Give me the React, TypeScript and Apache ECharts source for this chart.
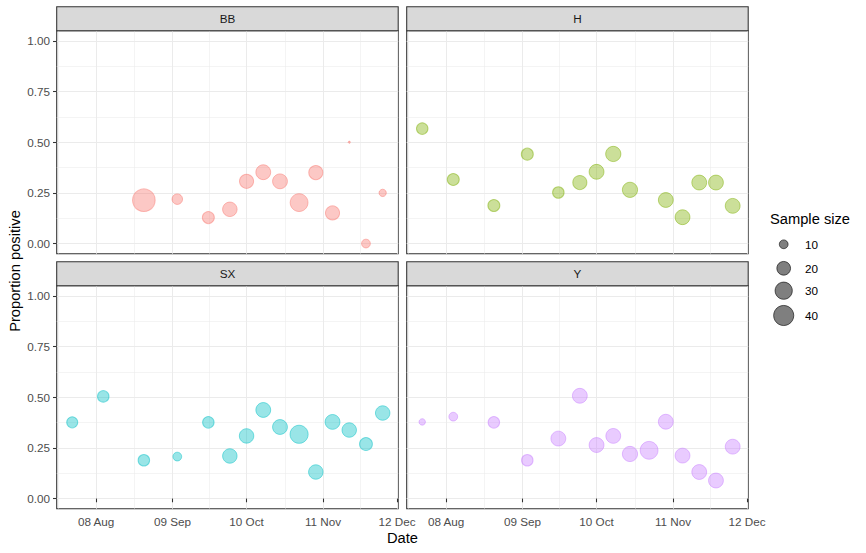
import React, { useEffect, useRef } from "react";
import * as echarts from "echarts";

// ---------- data ----------
const facetNames = ["BB", "H", "SX", "Y"];
const facetColors = ["#F8766D", "#7CAE00", "#00BFC4", "#C77CFF"];

const bbDates = ["2020-08-28", "2020-09-11", "2020-09-24", "2020-10-03", "2020-10-10", "2020-10-17", "2020-10-24", "2020-11-01", "2020-11-08", "2020-11-15", "2020-11-22", "2020-11-29", "2020-12-06"];
const bbProp = [0.214, 0.219, 0.128, 0.169, 0.307, 0.352, 0.307, 0.202, 0.35, 0.151, 0.5, 0.0, 0.25];
const bbN = [50, 13, 16, 22, 21, 23, 23, 32, 21, 21, 4, 10, 8];

const hDates = ["2020-07-29", "2020-08-11", "2020-08-28", "2020-09-11", "2020-09-24", "2020-10-03", "2020-10-10", "2020-10-17", "2020-10-24", "2020-11-08", "2020-11-15", "2020-11-22", "2020-11-29", "2020-12-06"];
const hProp = [0.567, 0.316, 0.1875, 0.441, 0.252, 0.301, 0.354, 0.442, 0.265, 0.215, 0.13, 0.301, 0.301, 0.186];
const hN = [15, 16, 16, 16, 15, 21, 23, 24, 24, 23, 23, 23, 23, 23];

const sxDates = ["2020-07-29", "2020-08-11", "2020-08-28", "2020-09-11", "2020-09-24", "2020-10-03", "2020-10-10", "2020-10-17", "2020-10-24", "2020-11-01", "2020-11-08", "2020-11-15", "2020-11-22", "2020-11-29", "2020-12-06"];
const sxProp = [0.376, 0.504, 0.189, 0.207, 0.376, 0.21, 0.309, 0.437, 0.353, 0.317, 0.131, 0.378, 0.338, 0.269, 0.422];
const sxN = [14, 15, 15, 10, 15, 22, 22, 23, 23, 33, 22, 23, 22, 18, 22];

const yDates = ["2020-07-29", "2020-08-11", "2020-08-28", "2020-09-11", "2020-09-24", "2020-10-03", "2020-10-10", "2020-10-17", "2020-10-24", "2020-11-01", "2020-11-08", "2020-11-15", "2020-11-22", "2020-11-29", "2020-12-06"];
const yProp = [0.378, 0.404, 0.376, 0.189, 0.296, 0.507, 0.264, 0.309, 0.22, 0.238, 0.379, 0.212, 0.131, 0.089, 0.256];
const yN = [7, 10, 15, 15, 23, 23, 23, 23, 24, 32, 23, 23, 23, 23, 23];

const xTickDates = ["2020-08-08", "2020-09-09", "2020-10-10", "2020-11-11", "2020-12-12"];
const yTicks = [0, 0.25, 0.5, 0.75, 1];
const yLimits = [0, 1];
const legendSizes = [10, 20, 30, 40];

// ---------- helpers ----------
const MONTHS = ["Jan", "Feb", "Mar", "Apr", "May", "Jun", "Jul", "Aug", "Sep", "Oct", "Nov", "Dec"];
const parseDate = (s: string) => {
  const [y, m, d] = s.split("-").map(Number);
  return Date.UTC(y, m - 1, d);
};
const fmtDate = (v: number) => {
  const d = new Date(v);
  return String(d.getUTCDate()).padStart(2, "0") + " " + MONTHS[d.getUTCMonth()];
};
const sizeFn = (n: number) => Math.max(1.5 + 3.2 * Math.sqrt(Math.max(n - 4, 0)) - 0.6, 2);
const rgba = (hex: string, a: number) => {
  const r = parseInt(hex.slice(1, 3), 16);
  const g = parseInt(hex.slice(3, 5), 16);
  const b = parseInt(hex.slice(5, 7), 16);
  return `rgba(${r},${g},${b},${a})`;
};
const minorBreaks = (major: number[], lo: number, hi: number) => {
  const out: number[] = [];
  const step0 = major[1] - major[0];
  const stepN = major[major.length - 1] - major[major.length - 2];
  out.push(major[0] - step0 / 2);
  for (let i = 0; i < major.length - 1; i++) out.push((major[i] + major[i + 1]) / 2);
  out.push(major[major.length - 1] + stepN / 2);
  return out.filter((v) => v >= lo && v <= hi);
};

const FONT = "'Liberation Sans', Arial, Helvetica, sans-serif";

export default function App() {
  const ref = useRef<HTMLDivElement>(null);

  useEffect(() => {
    if (!ref.current) return;
    const chart = echarts.init(ref.current, undefined, { renderer: "svg" });

    const panels = [
      { dates: bbDates, prop: bbProp, n: bbN },
      { dates: hDates, prop: hProp, n: hN },
      { dates: sxDates, prop: sxProp, n: sxN },
      { dates: yDates, prop: yProp, n: yN },
    ];

    const allTs = panels.flatMap((p) => p.dates.map(parseDate));
    const tMin = Math.min(...allTs);
    const tMax = Math.max(...allTs);
    const tSpan = tMax - tMin;
    const xMin = tMin - 0.05 * tSpan;
    const xMax = tMax + 0.05 * tSpan;
    const ySpan = yLimits[1] - yLimits[0];
    const yMin = yLimits[0] - 0.05 * ySpan;
    const yMax = yLimits[1] + 0.05 * ySpan;

    const xMajor = xTickDates.map(parseDate);
    const xMinor = minorBreaks(xMajor, xMin, xMax);
    const yMinor = minorBreaks(yTicks, yMin, yMax);

    const PANEL_LEFT = [56.7, 406.7];
    const PANEL_TOP = [30.7, 285.7];
    const PW = 341.5;
    const PH = 223;
    const STRIP_H = 24;

    const grids: any[] = [];
    const xAxes: any[] = [];
    const yAxes: any[] = [];
    const series: any[] = [];
    const graphics: any[] = [];

    const tickStyle = { color: "#333333", width: 1.07 };
    const labelStyle = { color: "#4D4D4D", fontSize: 11.7, fontFamily: FONT };

    panels.forEach((p, i) => {
      const row = Math.floor(i / 2);
      const col = i % 2;
      const left = PANEL_LEFT[col];
      const top = PANEL_TOP[row];
      grids.push({
        left,
        top,
        width: PW,
        height: PH,
        show: true,
        borderColor: "#333333",
        borderWidth: 1.07,
        backgroundColor: "#FFFFFF",
        containLabel: false,
        outerBoundsMode: "none",
      });
      const showX = row === 1;
      const showY = col === 0;
      xAxes.push({
        type: "value",
        gridIndex: i,
        min: xMin,
        max: xMax,
        axisLine: { show: false },
        axisTick: { show: showX, customValues: xMajor, length: 3.7, lineStyle: tickStyle },
        axisLabel: { show: showX, customValues: xMajor, formatter: (v: number) => fmtDate(v), margin: 6.6, ...labelStyle },
        splitLine: { show: true, lineStyle: { color: "#EBEBEB", width: 1.07 } },
      });
      xAxes.push({
        type: "value",
        gridIndex: i,
        min: xMin,
        max: xMax,
        axisLine: { show: false },
        axisTick: { show: false, customValues: xMinor },
        axisLabel: { show: false, customValues: xMinor },
        splitLine: { show: true, lineStyle: { color: "#EBEBEB", width: 0.55 } },
      });
      yAxes.push({
        type: "value",
        gridIndex: i,
        min: yMin,
        max: yMax,
        axisLine: { show: false },
        axisTick: { show: showY, customValues: yTicks, length: 3.7, lineStyle: tickStyle },
        axisLabel: { show: showY, customValues: yTicks, formatter: (v: number) => v.toFixed(2), margin: 6.6, ...labelStyle },
        splitLine: { show: true, lineStyle: { color: "#EBEBEB", width: 1.07 } },
      });
      yAxes.push({
        type: "value",
        gridIndex: i,
        min: yMin,
        max: yMax,
        axisLine: { show: false },
        axisTick: { show: false, customValues: yMinor },
        axisLabel: { show: false, customValues: yMinor },
        splitLine: { show: true, lineStyle: { color: "#EBEBEB", width: 0.55 } },
      });
      const col0 = facetColors[i];
      series.push({
        type: "scatter",
        name: facetNames[i],
        xAxisIndex: 2 * i,
        yAxisIndex: 2 * i,
        symbol: "circle",
        data: p.dates.map((d, k) => [parseDate(d), p.prop[k], p.n[k]]),
        symbolSize: (v: number[]) => sizeFn(v[2]),
        itemStyle: {
          color: rgba(col0, 0.5),
          borderColor: rgba(col0, 0.6),
          borderWidth: 1,
        },
        z: 3,
      });
      // strip
      graphics.push({
        type: "rect",
        shape: { x: left, y: top - STRIP_H, width: PW, height: STRIP_H },
        style: { fill: "#D9D9D9", stroke: "#333333", lineWidth: 1.07 },
        z: 10,
      });
      graphics.push({
        type: "text",
        x: left + PW / 2,
        y: top - STRIP_H / 2,
        style: {
          text: facetNames[i],
          fill: "#1A1A1A",
          font: `11.7px ${FONT}`,
          textAlign: "center",
          textVerticalAlign: "middle",
        },
        z: 11,
      });
    });

    // axis titles
    graphics.push({
      type: "text",
      x: 402.5,
      y: 538,
      style: { text: "Date", fill: "#000000", font: `14.7px ${FONT}`, textAlign: "center", textVerticalAlign: "middle" },
    });
    graphics.push({
      type: "text",
      x: 15,
      y: 271,
      rotation: Math.PI / 2,
      style: { text: "Proportion positive", fill: "#000000", font: `14.7px ${FONT}`, textAlign: "center", textVerticalAlign: "middle" },
    });

    // legend
    graphics.push({
      type: "text",
      x: 770,
      y: 219,
      style: { text: "Sample size", fill: "#000000", font: `14.7px ${FONT}`, textAlign: "left", textVerticalAlign: "middle" },
    });
    const legendY = [244.3, 268.3, 290.7, 315.5];
    legendSizes.forEach((s, k) => {
      graphics.push({
        type: "circle",
        shape: { cx: 783.7, cy: legendY[k], r: sizeFn(s) / 2 },
        style: { fill: "rgba(0,0,0,0.5)", stroke: "rgba(0,0,0,0.6)", lineWidth: 1 },
      });
      graphics.push({
        type: "text",
        x: 805,
        y: legendY[k],
        style: { text: String(s), fill: "#000000", font: `11.7px ${FONT}`, textAlign: "left", textVerticalAlign: "middle" },
      });
    });

    chart.setOption({
      animation: false,
      backgroundColor: "#FFFFFF",
      grid: grids,
      xAxis: xAxes,
      yAxis: yAxes,
      series,
      graphic: { elements: graphics },
    });

    return () => chart.dispose();
  }, []);

  return (
    <div
      ref={ref}
      style={{ position: "fixed", left: 0, top: 0, width: 866, height: 553, background: "#FFFFFF" }}
    />
  );
}
